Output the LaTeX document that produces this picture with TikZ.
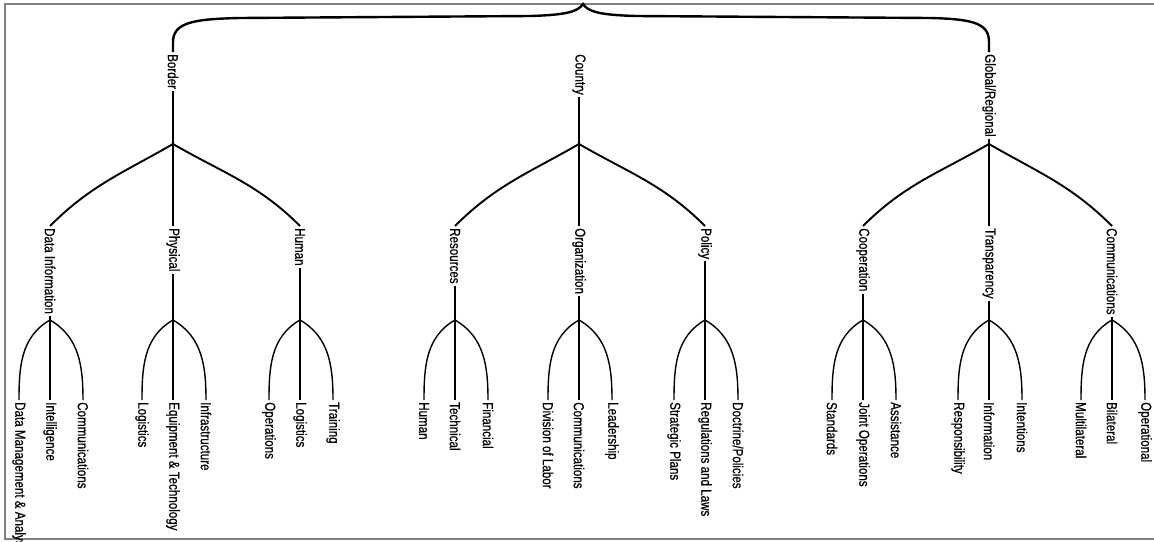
\documentclass[tikz,border=0pt]{standalone}
\usepackage{fontspec}
\setmainfont{Liberation Sans}[FakeStretch=0.8, FakeBold=0.6]
\begin{document}
\begin{tikzpicture}[x=1pt, y=-1pt,
        lbl/.style={rotate=-90, anchor=west, inner sep=2pt, font=\fontsize{14.5}{15}\selectfont},
        fat/.style={line width=2.8pt},
        mid/.style={line width=1.9pt},
        thin/.style={line width=1.4pt}]
\useasboundingbox (0,0) rectangle (1154,541);
\draw[gray, line width=2.2pt] (1154,4)--(5,4)--(5,539)--(1154,539);

% top level
\node[lbl] (border) at (173,52) {Border};
\node[lbl] (country) at (579,52) {Country};
\node[lbl] (global) at (989,52) {Global/Regional};
\coordinate (tip) at (583,4);
\draw[line width=2.4pt] (border.west) -- (173,42) .. controls (173,22) and (195,19) .. (240,18)
    -- (530,16) .. controls (565,15) and (578,12) .. (tip)
    .. controls (588,12) and (601,15) .. (636,16)
    -- (930,18) .. controls (975,19) and (989,24) .. (989,42) -- (global.west);

\coordinate (border-fork) at (173,144);
\coordinate (country-fork) at (579,144);
\coordinate (global-fork) at (989,144);
\draw[fat] (border.east) -- (border-fork);
\draw[thin] (country.east) -- (country-fork);
\draw[mid] (global.east) -- (global-fork);

% second level
\node[lbl] (data) at (50,226) {Data Information};
\node[lbl] (physical) at (173,226) {Physical};
\node[lbl] (human) at (300,226) {Human};
\node[lbl] (resources) at (455,226) {Resources};
\node[lbl] (organization) at (579,226) {Organization};
\node[lbl] (policy) at (705,226) {Policy};
\node[lbl] (cooperation) at (863,226) {Cooperation};
\node[lbl] (transparency) at (989,226) {Transparency};
\node[lbl] (comms) at (1112,226) {Communications};

\draw[mid] (border-fork) to[out=-150,in=45] (data.west);
\draw[fat] (border-fork) -- (physical.west);
\draw[mid] (border-fork) to[out=-30,in=135] (human.west);
\draw[mid] (country-fork) to[out=-150,in=45] (resources.west);
\draw[mid] (country-fork) -- (organization.west);
\draw[mid] (country-fork) to[out=-30,in=135] (policy.west);
\draw[mid] (global-fork) to[out=-150,in=45] (cooperation.west);
\draw[fat] (global-fork) -- (transparency.west);
\draw[mid] (global-fork) to[out=-30,in=135] (comms.west);

% leaves, three under each second level node
\foreach \p/\x/\w/\a/\b/\c in {
    data/50/1.4/{Data Management \& Analysis}/Intelligence/Communications,
    physical/173/1.1/Logistics/{Equipment \& Technology}/Infrastructure,
    human/300/1.1/Operations/Logistics/Training,
    resources/455/1.4/Human/Technical/Financial,
    organization/579/1.6/{Division of Labor}/Communications/Leadership,
    policy/705/1.6/{Strategic Plans}/{Regulations and Laws}/{Doctrine/Policies},
    cooperation/863/1.1/Standards/{Joint Operations}/Assistance,
    transparency/989/2/Responsibility/Information/Intentions,
    comms/1112/1.1/Multilateral/Bilateral/Operational}
{
    \coordinate (\p-fork) at (\x,320);
    \node[lbl] (\p-a) at (\x-31,400) {\a};
    \node[lbl] (\p-b) at (\x,400) {\b};
    \node[lbl] (\p-c) at (\x+33,400) {\c};
    \draw[line width=\w pt] (\p.east) -- (\p-fork);
    \draw[thin] (\p-fork) to[out=-150,in=90] (\p-a.west);
    \draw[line width=\w pt] (\p-fork) -- (\p-b.west);
    \draw[thin] (\p-fork) to[out=-30,in=90] (\p-c.west);
}
\end{tikzpicture}
\end{document}
